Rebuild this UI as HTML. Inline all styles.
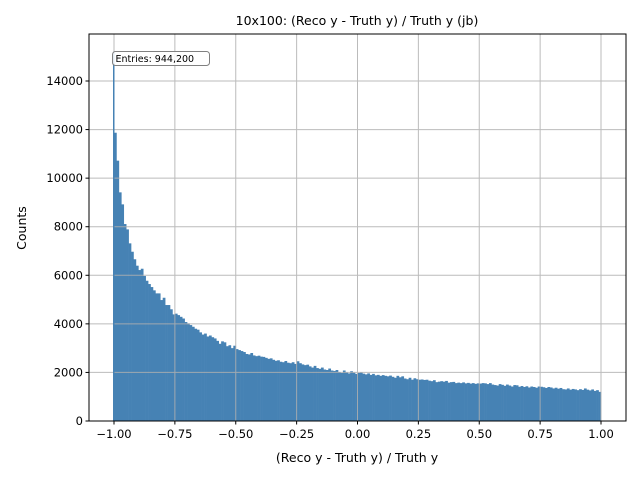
<!DOCTYPE html>
<html><head><meta charset="utf-8"><style>body{margin:0;background:#fff}svg{font-family:"DejaVu Sans","Liberation Sans",sans-serif}</style></head>
<body>
<svg id="c" width="640" height="480"></svg>
<script>
const binStart = -1.0;
const binWidth = 0.01;
const spikeValue = 15200;
const counts = [11870,10720,9415,8920,8110,7890,7315,6970,6660,6395,6215,6270,5970,5775,5640,5515,5380,5255,5255,4980,5075,4775,4775,4600,4390,4420,4360,4290,4220,4075,
4020,3950,3880,3800,3760,3650,3560,3600,3480,3520,3450,3400,3300,3180,3280,3240,3080,3120,3000,3100,2960,2920,2880,2840,2760,2740,2800,2700,2670,2690,
2650,2640,2600,2560,2580,2520,2480,2500,2440,2420,2470,2400,2380,2420,2350,2460,2380,2330,2300,2320,2250,2200,2270,2180,2150,2200,2120,2100,2160,2080,
2060,2100,2020,1980,2080,2000,1960,2050,1990,1940,1980,2000,1950,1920,1960,1900,1940,1880,1900,1860,1890,1860,1840,1870,1820,1780,1860,1800,1840,1750,
1720,1780,1700,1760,1720,1700,1710,1690,1700,1660,1640,1680,1600,1620,1640,1620,1650,1580,1600,1610,1560,1580,1560,1590,1550,1570,1540,1560,1530,1550,
1540,1560,1550,1520,1560,1500,1480,1460,1520,1490,1450,1500,1460,1420,1480,1470,1410,1440,1400,1430,1380,1420,1400,1370,1420,1410,1390,1360,1400,1380,
1340,1370,1330,1360,1310,1300,1340,1290,1320,1300,1270,1310,1280,1340,1290,1260,1300,1240,1270,1200];
const xTicks = [-1.0,-0.75,-0.5,-0.25,0,0.25,0.5,0.75,1.0];
const xTickLabels = ["−1.00","−0.75","−0.50","−0.25","0.00","0.25","0.50","0.75","1.00"];
const yTicks = [0,2000,4000,6000,8000,10000,12000,14000];

const L=89,R=626,T=34,B=421;
const X=v=>114+(v+1)*243.5;
const Y=v=>B-v*340/14000;
const svg=document.getElementById('c');
const NS='http://www.w3.org/2000/svg';
function mk(tag,attrs,parent){const e=document.createElementNS(NS,tag);for(const k in attrs)e.setAttribute(k,attrs[k]);(parent||svg).appendChild(e);return e;}

const bars=mk('g',{});


counts.forEach((c,i)=>{
  const x0=X(binStart+i*binWidth),x1=X(binStart+(i+1)*binWidth);
  const r=mk('rect',{x:x0,y:Y(c),width:x1-x0+0.3,height:B-Y(c),fill:'#4682b4'},bars);
  
  
});

const grid=mk('g',{stroke:'#b0b0b0','stroke-width':1,opacity:0.85});


xTicks.forEach(t=>mk('line',{x1:X(t),x2:X(t),y1:T,y2:B},grid));
yTicks.forEach(t=>mk('line',{x1:L,x2:R,y1:Y(t),y2:Y(t)},grid));

const sp=mk('rect',{x:X(binStart)-1,y:Y(spikeValue),width:1.5,height:B-Y(spikeValue),fill:'#4682b4'});



const frame=mk('rect',{x:L,y:T,width:R-L,height:B-T,fill:'none',stroke:'#000','stroke-width':1});



const xa=mk('g',{'font-size':'11.5px'});


xTicks.forEach((t,i)=>{
  mk('line',{x1:X(t),x2:X(t),y1:B,y2:B+3.5,stroke:'#000'},xa);
  const tx=mk('text',{x:X(t),y:B+17,'text-anchor':'middle'},xa);tx.textContent=xTickLabels[i];
});
const ya=mk('g',{'font-size':'11.5px'});


yTicks.forEach(t=>{
  mk('line',{x1:L-3.5,x2:L,y1:Y(t),y2:Y(t),stroke:'#000'},ya);
  const tx=mk('text',{x:L-6,y:Y(t)+4,'text-anchor':'end'},ya);tx.textContent=t;
});
</script>
<svg width="640" height="480" style="position:absolute;left:0;top:0">
<text x="357" y="25" text-anchor="middle" font-size="12.5">10x100: (Reco y - Truth y) / Truth y (jb)</text>
<text x="357" y="462" text-anchor="middle" font-size="12.5">(Reco y - Truth y) / Truth y</text>
<text x="26" y="228" text-anchor="middle" font-size="12.5" transform="rotate(-90 26 228)">Counts</text>
<g>
<rect x="112.5" y="51.5" width="97" height="14" rx="3" fill="#fff" fill-opacity="0.85" stroke="#808080"/>
<text x="115.5" y="62" font-size="9.5">Entries: 944,200</text>
</g>
</svg>
</body></html>
